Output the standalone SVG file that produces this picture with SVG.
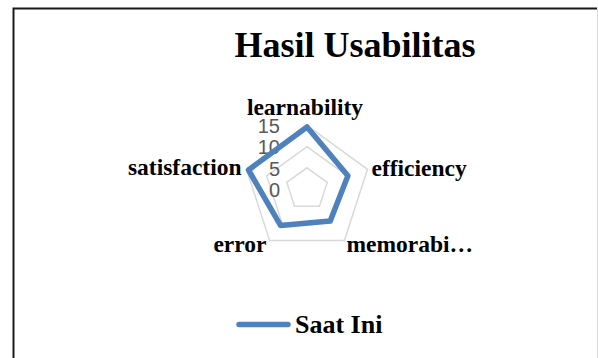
<svg xmlns="http://www.w3.org/2000/svg" width="598" height="358" viewBox="0 0 598 358">
<style>
.lbl{font-family:"Liberation Serif","Times New Roman",serif;font-weight:bold;font-size:23.5px;fill:#000}
.tick{font-family:"Liberation Sans",Arial,sans-serif;font-size:20px;fill:#595959;text-anchor:end}
.grid{fill:none;stroke:#d9d9d9;stroke-width:1.5}
.series{fill:none;stroke:#4f81bd;stroke-width:5.5;stroke-linejoin:round}
</style>
<rect width="598" height="358" fill="#fff"/>
<path d="M13.5,360 V8.5 H597" fill="none" stroke="#1a1a1a" stroke-width="2"/>
<line x1="597.5" y1="9" x2="597.5" y2="358" stroke="#d9d9d9" stroke-width="1"/>
<g id="title"><text class="lbl" x="355" y="57" text-anchor="middle" style="font-size:36px">Hasil Usabilitas</text></g>
<g id="grid">
<polygon class="grid" points="307,167.8 327.2,182.4 319.5,206.2 294.5,206.2 286.8,182.4"/>
<polygon class="grid" points="307,146.6 347.3,175.9 331.9,223.3 282.1,223.3 266.7,175.9"/>
<polygon class="grid" points="307,125.4 367.5,169.3 344.4,240.5 269.6,240.5 246.5,169.3"/>
</g>
<g id="axis-ticks">
<text class="tick" x="280" y="133">15</text>
<text class="tick" x="280" y="154.4">10</text>
<text class="tick" x="280" y="175.6">5</text>
<text class="tick" x="280" y="196.8">0</text>
</g>
<g id="connectors">
<polygon class="series" points="307,127 347.9,175.7 330.2,221 280.5,225.4 248.5,170"/>
</g>
<g id="node-learnability"><text class="lbl" x="305" y="115" text-anchor="middle">learnability</text></g>
<g id="node-efficiency"><text class="lbl" x="371.5" y="176">efficiency</text></g>
<g id="node-memorability"><text class="lbl" x="346.5" y="251.5">memorabi…</text></g>
<g id="node-error"><text class="lbl" x="266.5" y="251.5" text-anchor="end">error</text></g>
<g id="node-satisfaction"><text class="lbl" x="241.5" y="175" text-anchor="end">satisfaction</text></g>
<g id="legend">
<line x1="239" y1="324.5" x2="288" y2="324.5" stroke="#4f81bd" stroke-width="5.5" stroke-linecap="round"/>
<text class="lbl" x="295" y="333.3" style="font-size:26px">Saat Ini</text>
</g>
</svg>
